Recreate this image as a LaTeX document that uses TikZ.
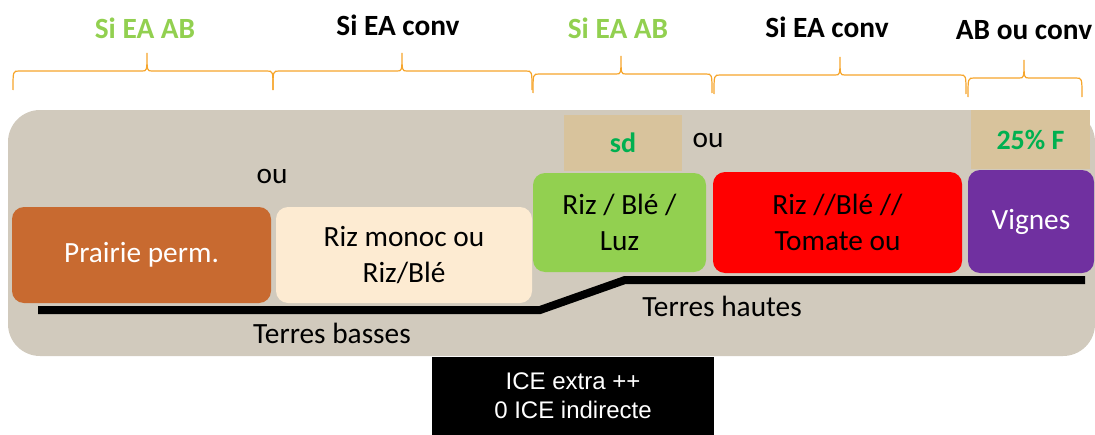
\documentclass[tikz,border=0pt]{standalone}
\usepackage{fontspec}
\setmainfont{Carlito}
\newfontfamily\arialfont{Liberation Sans}
\usetikzlibrary{positioning}

\definecolor{fond}{HTML}{D1CABD}
\definecolor{brique}{HTML}{C86A30}
\definecolor{creme}{HTML}{FDEBD2}
\definecolor{vertclair}{HTML}{92D050}
\definecolor{vertfonce}{HTML}{00B050}
\definecolor{violet}{HTML}{7030A0}
\definecolor{sable}{HTML}{D8C39C}
\definecolor{orange}{HTML}{F6A52B}

\tikzset{
  bloc/.style={rounded corners=9pt, inner sep=0pt, align=center,
    font=\fontsize{22}{27}\selectfont},
  etiq/.style={inner sep=0pt, font=\fontsize{22}{27}\selectfont},
  titre/.style={inner sep=0pt, font=\bfseries\fontsize{22}{27}\selectfont},
  pave/.style={fill=sable, inner sep=0pt, text=vertfonce,
    font=\bfseries\fontsize{21}{26}\selectfont},
  accolade/.style={orange, line width=0.9pt},
  sol/.style={line width=6pt}
}

% accolade: gauche, pointe, droite, hauteur
\newcommand{\accol}[4]{%
  \draw[accolade] (#1,#4+19) .. controls (#1,#4) .. (#1+6,#4) -- (#2-5,#4)
    .. controls (#2,#4) .. (#2,#4-18) .. controls (#2,#4) .. (#2+5,#4)
    -- (#3-6,#4) .. controls (#3,#4) .. (#3,#4+19);}

\begin{document}
\begin{tikzpicture}[x=0.75pt, y=-0.75pt]
    \useasboundingbox (0,0) rectangle (1095,435);

    \fill[fond, rounded corners=24pt] (8,110) rectangle (1095,356);

    % accolades et titres
    \accol{13}{147}{273}{71}
    \accol{273}{402}{532}{71}
    \accol{533}{621}{712}{74}
    \accol{714}{840}{966}{75}
    \accol{968}{1024}{1082}{78}

    \node[titre, text=vertclair] (t1) at (145,28) {Si EA AB};
    \node[titre] (t2) at (398,25) {Si EA conv};
    \node[titre, text=vertclair] (t3) at (618,28) {Si EA AB};
    \node[titre] (t4) at (827,27) {Si EA conv};
    \node[titre] (t5) at (1024,30) {AB ou conv};

    % cultures
    \node[bloc, fill=brique, text=white, minimum width=194.25pt, minimum height=72pt]
      (prairie) at (141.5,255) {Prairie perm.};
    \node[bloc, fill=creme, minimum width=192pt, minimum height=72pt]
      (monoc) at (404,255) {Riz monoc ou\\Riz/Blé};
    \node[bloc, fill=vertclair, minimum width=129.75pt, minimum height=74.25pt]
      (luz) at (619.5,222.5) {Riz / Blé /\\Luz};
    \node[bloc, fill=red, minimum width=186.75pt, minimum height=75.75pt]
      (tomate) at (837.5,222.5) {Riz //Blé //\\Tomate ou};
    \node[bloc, fill=violet, text=white, minimum width=94.5pt, minimum height=77.25pt]
      (vignes) at (1031,221.5) {Vignes};

    \node[pave, minimum width=88.5pt, minimum height=42pt] (sd) at (623,143) {sd};
    \node[pave, minimum width=89.25pt, minimum height=44.25pt] (pcf) at (1030.5,139.5) {25\% F};

    \node[etiq] (ou1) at (272,176) {ou};
    \node[etiq] (ou2) at (708,140) {ou};

    % niveaux des terres
    \coordinate (b1) at (38,310);
    \coordinate (b2) at (540,310);
    \coordinate (h1) at (625,280);
    \coordinate (h2) at (1085,280);
    \draw[sol] (b1) -- (b2) -- (h1) -- (h2);

    \node[etiq] (basses) at (332,333) {Terres basses};
    \node[etiq] (hautes) at (722,306) {Terres hautes};

    \node[fill=black, text=white, inner sep=0pt, align=center,
      font=\arialfont\fontsize{18}{22}\selectfont,
      minimum width=211.5pt, minimum height=58.5pt]
      (ice) at (573,396) {ICE extra ++\\0 ICE indirecte};
\end{tikzpicture}
\end{document}
